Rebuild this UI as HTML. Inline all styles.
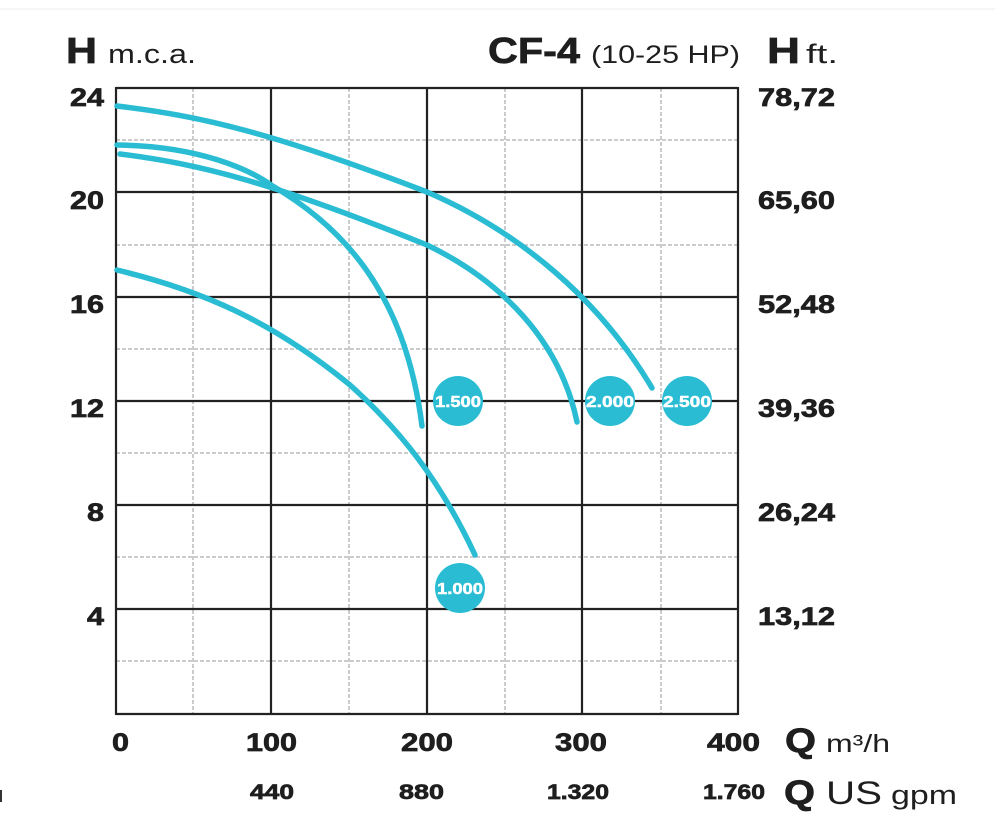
<!DOCTYPE html>
<html><head><meta charset="utf-8"><style>
body{margin:0;background:#fff;}
svg{display:block;font-family:"Liberation Sans",sans-serif;}
.b{font-weight:bold;fill:#1e1e1e;stroke:#1e1e1e;stroke-width:0.7;}
.n{fill:#1e1e1e;}
</style></head><body>
<svg width="995" height="834" viewBox="0 0 995 834">
<line x1="0" y1="9" x2="995" y2="9" stroke="#eee"/>
<g stroke="#999" stroke-width="1" stroke-dasharray="4,2">
<line x1="193" y1="88" x2="193" y2="714"/><line x1="349" y1="88" x2="349" y2="714"/>
<line x1="505" y1="88" x2="505" y2="714"/><line x1="661" y1="88" x2="661" y2="714"/>
<line x1="116" y1="140" x2="738" y2="140"/><line x1="116" y1="245" x2="738" y2="245"/>
<line x1="116" y1="349" x2="738" y2="349"/><line x1="116" y1="453" x2="738" y2="453"/>
<line x1="116" y1="557" x2="738" y2="557"/><line x1="116" y1="661" x2="738" y2="661"/>
</g>
<g stroke="#222" stroke-width="2.2">
<line x1="116" y1="88" x2="738" y2="88"/><line x1="116" y1="192" x2="738" y2="192"/>
<line x1="116" y1="297" x2="738" y2="297"/><line x1="116" y1="401" x2="738" y2="401"/>
<line x1="116" y1="505" x2="738" y2="505"/><line x1="116" y1="609" x2="738" y2="609"/>
<line x1="116" y1="714" x2="738" y2="714"/>
<line x1="116" y1="87" x2="116" y2="715"/><line x1="271" y1="88" x2="271" y2="714"/>
<line x1="427" y1="88" x2="427" y2="714"/><line x1="582" y1="88" x2="582" y2="714"/>
<line x1="738" y1="87" x2="738" y2="715"/>
</g>
<g fill="none" stroke="#29bcd3" stroke-width="5.5" stroke-linecap="round">
<path d="M117,106 C200,116 271,132 427,192 C520,232 600,300 652,388"/>
<path d="M117,145 C200,146 250,170 271,185 C340,225 405,290 422,426"/>
<path d="M120,154 C200,164 271,182 427,245 C500,280 560,340 577,422"/>
<path d="M117,270 C200,290 271,320 350,385 C400,430 440,480 475,555"/>
</g>
<g fill="#29bcd3"><circle cx="458" cy="401" r="25"/><circle cx="610" cy="401" r="25"/><circle cx="687" cy="401" r="25"/><circle cx="460" cy="588" r="25"/></g>
<g fill="#fff" stroke="#fff" stroke-width="0.5" font-weight="bold" font-size="16" text-anchor="middle">
<text x="458" y="407" textLength="46" lengthAdjust="spacingAndGlyphs">1.500</text><text x="610" y="407" textLength="48" lengthAdjust="spacingAndGlyphs">2.000</text>
<text x="687" y="407" textLength="48" lengthAdjust="spacingAndGlyphs">2.500</text><text x="460" y="594" textLength="46" lengthAdjust="spacingAndGlyphs">1.000</text>
</g>
<text x="66" y="63" class="b" font-size="36" textLength="31" lengthAdjust="spacingAndGlyphs">H</text><text x="108" y="63" class="n" font-size="27" textLength="88" lengthAdjust="spacingAndGlyphs">m.c.a.</text>
<text x="488" y="63" class="b" font-size="36" textLength="92" lengthAdjust="spacingAndGlyphs">CF-4</text><text x="591" y="63" class="n" font-size="25" textLength="149" lengthAdjust="spacingAndGlyphs">(10-25 HP)</text>
<text x="767" y="63" class="b" font-size="36" textLength="33" lengthAdjust="spacingAndGlyphs">H</text><text x="806" y="63" class="n" font-size="27" textLength="32" lengthAdjust="spacingAndGlyphs">ft.</text>
<g class="b" font-size="25">
<text x="70" y="106" textLength="34" lengthAdjust="spacingAndGlyphs">24</text><text x="70" y="209" textLength="34" lengthAdjust="spacingAndGlyphs">20</text><text x="70" y="313" textLength="34" lengthAdjust="spacingAndGlyphs">16</text>
<text x="70" y="417" textLength="34" lengthAdjust="spacingAndGlyphs">12</text><text x="87" y="521" textLength="17" lengthAdjust="spacingAndGlyphs">8</text><text x="87" y="625" textLength="17" lengthAdjust="spacingAndGlyphs">4</text>
</g>
<g class="b" font-size="25">
<text x="758" y="106" textLength="77" lengthAdjust="spacingAndGlyphs">78,72</text><text x="758" y="209" textLength="77" lengthAdjust="spacingAndGlyphs">65,60</text><text x="758" y="313" textLength="77" lengthAdjust="spacingAndGlyphs">52,48</text>
<text x="758" y="417" textLength="77" lengthAdjust="spacingAndGlyphs">39,36</text><text x="758" y="521" textLength="77" lengthAdjust="spacingAndGlyphs">26,24</text><text x="758" y="625" textLength="77" lengthAdjust="spacingAndGlyphs">13,12</text>
</g>
<g class="b" font-size="25">
<text x="112" y="751" textLength="17" lengthAdjust="spacingAndGlyphs">0</text><text x="246" y="751" textLength="51" lengthAdjust="spacingAndGlyphs">100</text><text x="401" y="751" textLength="52" lengthAdjust="spacingAndGlyphs">200</text>
<text x="555" y="751" textLength="52" lengthAdjust="spacingAndGlyphs">300</text><text x="707" y="751" textLength="53" lengthAdjust="spacingAndGlyphs">400</text>
</g>
<text x="785" y="752" class="b" font-size="34" textLength="31" lengthAdjust="spacingAndGlyphs">Q</text><text x="826" y="752" class="n" font-size="25" textLength="64" lengthAdjust="spacingAndGlyphs">m³/h</text>
<g class="b" font-size="21">
<text x="250" y="799" textLength="44" lengthAdjust="spacingAndGlyphs">440</text><text x="399" y="799" textLength="45" lengthAdjust="spacingAndGlyphs">880</text><text x="547" y="799" textLength="62" lengthAdjust="spacingAndGlyphs">1.320</text><text x="703" y="799" textLength="62" lengthAdjust="spacingAndGlyphs">1.760</text>
</g>
<text x="784" y="804" class="b" font-size="34" textLength="31" lengthAdjust="spacingAndGlyphs">Q</text><text x="826" y="804" class="n" font-size="32" textLength="56" lengthAdjust="spacingAndGlyphs">US</text><text x="891" y="804" class="n" font-size="27" textLength="66" lengthAdjust="spacingAndGlyphs">gpm</text>
<rect x="0" y="790" width="2" height="12" fill="#333"/>
</svg>
</body></html>
